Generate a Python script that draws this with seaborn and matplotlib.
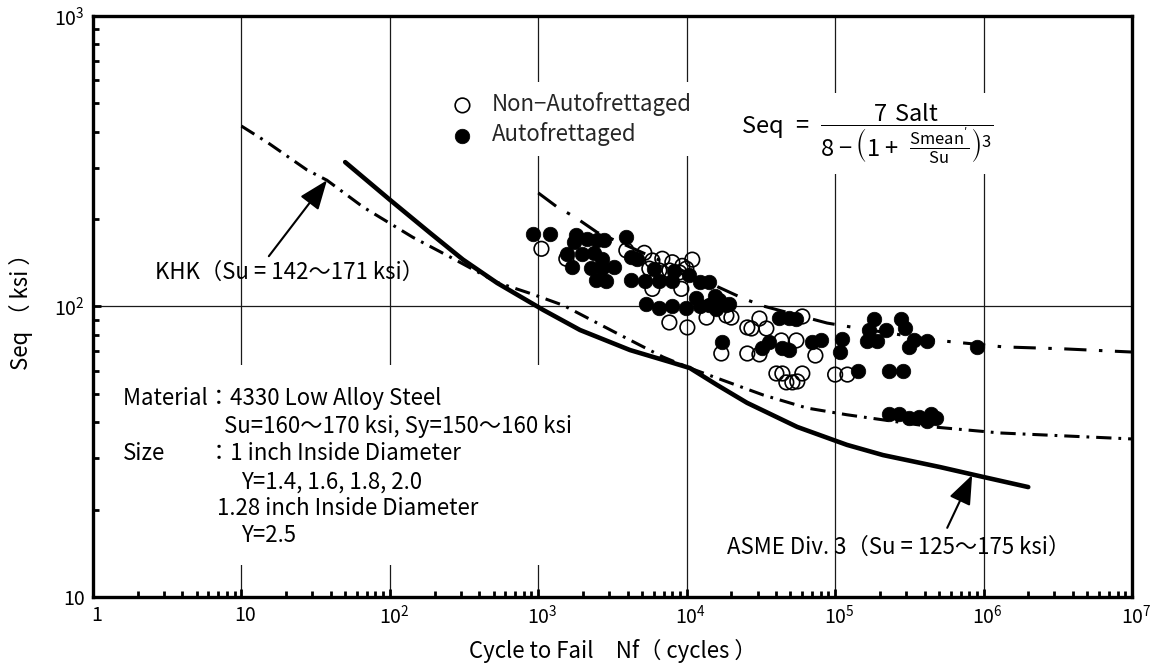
import matplotlib
matplotlib.use("Agg")
import matplotlib.pyplot as plt
import matplotlib.transforms as mtransforms
import seaborn as sns
from matplotlib.patches import Rectangle
from matplotlib.ticker import LogLocator, NullFormatter

# ---- test data: cycles to failure (Nf) and equivalent stress Seq (ksi) ----
auto_n = [925, 1205, 1800, 1750, 2140, 2500, 2790, 3920, 1570, 1980, 1700, 2390,
          2700, 2280, 2700, 3250, 2460, 2870, 4230, 4650, 4230, 5260, 6540, 8000,
          12200, 14200, 5340, 6540, 8000, 9940, 12200, 14200, 16600, 19400, 11600,
          15400, 6050, 8250, 10400, 18500, 15800,
          17400, 32300, 36000, 42100, 49100, 54800, 44100, 49100, 70200, 80800,
          112000, 107000, 143000,
          184000, 170000, 221000, 165000, 190000, 279000, 297000, 342000, 316000,
          418000, 909000, 229000, 288000,
          232000, 271000, 316000, 370000, 445000, 481000, 418000]
auto_s = [178, 178, 176, 167, 171, 170, 169, 174, 152, 152, 137, 153,
          146, 136, 136, 137, 123, 122, 148, 146, 123, 122, 122, 122,
          121, 121, 102, 99, 100, 99, 100, 101, 105, 102, 107,
          109, 135, 133, 128, 101, 98,
          75.2, 71.7, 75.2, 91.6, 91.6, 90.9, 71.7, 70.6, 75.2, 76.4,
          77.0, 69.5, 59.8,
          90.9, 82.7, 82.7, 75.8, 75.8, 90.9, 84.0, 76.4, 72.3,
          75.8, 72.3, 59.8, 59.8,
          42.8, 42.8, 41.2, 41.5, 42.8, 41.2, 40.5]

non_n = [1050, 1545, 3920, 5180, 5870, 6850, 8000, 9340, 6540, 7640, 8920, 5600,
         10900, 9940, 5870, 9200, 7640, 10100, 13600, 18500, 20000, 25600, 27300,
         30900, 34400, 60100, 17100, 25600, 30900, 54800, 43400, 73600, 40200,
         44100, 60100, 46900, 51500, 55600, 100000, 121000]
non_s = [158, 146, 156, 153, 144, 146, 142, 138, 133, 133, 131, 135,
         145, 135, 115, 115, 88.1, 84.7, 91.6, 93.1, 91.6, 84.7, 84.0,
         90.9, 84.0, 92.4, 68.9, 68.9, 68.4, 76.4, 76.4, 67.8, 58.8,
         58.8, 58.8, 54.8, 54.8, 55.2, 58.3, 58.3]

# ---- design curves ----
khk_n = [10, 15.1, 27.7, 37.7, 66, 143, 255, 528, 880, 1470, 3560, 6930, 10500,
         16000, 32700, 64800, 120000, 457000, 1.29e6, 1e7]
khk_s = [418, 366, 295, 272, 220, 173, 148, 121, 111, 101, 79.8, 67, 61.4,
         56.7, 49.6, 44.7, 42.4, 38.5, 36.7, 35.0]

asme_n = [50, 100, 187, 311, 528, 1080, 1910, 4150, 7730, 10500, 16000, 25500,
          55500, 120000, 210000, 510000, 994000, 2.0e6]
asme_s = [314, 233, 179, 145, 120.5, 97.3, 83, 70.8, 64.4, 61.4, 53.7, 46.6,
          38.5, 33.4, 30.8, 28.0, 25.9, 23.9]

af_n = [1000, 1340, 1770, 2490, 7730, 23600, 32700, 88300, 141000, 457000,
        1.36e6, 3.44e6, 1e7]
af_s = [246, 220, 203, 180, 139, 107, 100.4, 87.7, 84.3, 76.7, 72.6, 71.5, 69.7]

x_ticks = [1, 10, 1e2, 1e3, 1e4, 1e5, 1e6, 1e7]
x_tick_labels = ["1", "10", "$10^{2}$", "$10^{3}$", "$10^{4}$", "$10^{5}$",
                 "$10^{6}$", "$10^{7}$"]
y_ticks = [10, 100, 1000]
y_tick_labels = ["10", "$10^{2}$", "$10^{3}$"]

sns.set_theme(style="white")
plt.rcParams["font.family"] = ["Noto Sans CJK JP", "DejaVu Sans"]
plt.rcParams["mathtext.default"] = "regular"
plt.rcParams["axes.unicode_minus"] = False
plt.rcParams["lines.scale_dashes"] = False

FS = 16

fig = plt.figure(figsize=(11.54, 6.66), dpi=100)
ax = fig.add_axes([93 / 1154, 69 / 666, 1039 / 1154, 581 / 666])
ax.set_xscale("log")
ax.set_yscale("log")

# design curves
sns.lineplot(x=khk_n, y=khk_s, ax=ax, color="black", lw=2.2, sort=False,
             linestyle=(0, (11, 5, 2, 5)), zorder=3)
sns.lineplot(x=asme_n, y=asme_s, ax=ax, color="black", lw=3.3, sort=False,
             zorder=3)
sns.lineplot(x=af_n, y=af_s, ax=ax, color="black", lw=2.2, sort=False,
             linestyle=(0, (16, 9, 2.5, 9)), zorder=3)

# test points
sns.scatterplot(x=non_n, y=non_s, ax=ax, marker="o", s=110, color="black",
                facecolor="none", edgecolor="black", linewidth=1.2,
                label="Non−Autofrettaged", zorder=4)
sns.scatterplot(x=auto_n, y=auto_s, ax=ax, marker="o", s=110, color="black",
                edgecolor="black", linewidth=0.5, label="Autofrettaged",
                zorder=5)

ax.set_xlim(1, 1e7)
ax.set_ylim(10, 1000)

# grid at decades
ax.grid(True, which="major", color="#1a1a1a", lw=0.9)
ax.set_axisbelow(True)

for sp in ax.spines.values():
    sp.set_visible(True)
    sp.set_color("black")
    sp.set_linewidth(2.4)

ax.xaxis.set_minor_locator(LogLocator(base=10, subs=range(2, 10), numticks=20))
ax.yaxis.set_minor_locator(LogLocator(base=10, subs=range(2, 10), numticks=20))
ax.xaxis.set_minor_formatter(NullFormatter())
ax.yaxis.set_minor_formatter(NullFormatter())
ax.set_xticks(x_ticks)
ax.set_xticklabels(x_tick_labels)
ax.set_yticks(y_ticks)
ax.set_yticklabels(y_tick_labels)
ax.tick_params(which="both", direction="in", top=False, right=False,
               left=True, bottom=True, color="black", width=2.0)
ax.tick_params(which="major", length=6, labelsize=14, pad=6, labelcolor="black")
ax.tick_params(which="minor", length=4)

# nudge the decade labels slightly to the right
shift = mtransforms.ScaledTranslation(4 / 100, 0, fig.dpi_scale_trans)
for lab in ax.get_xticklabels():
    lab.set_transform(lab.get_transform() + shift)

ax.set_xlabel("Cycle to Fail　Nf（ cycles ）", fontsize=FS, color="black")
ax.set_ylabel("Seq （ ksi ）", fontsize=FS, color="black")
ax.xaxis.set_label_coords(0.5, -0.072)
ax.yaxis.set_label_coords(-0.058, 0.5)

# legend
leg = ax.legend(loc="upper left", bbox_to_anchor=(0.339, 0.886),
                borderaxespad=0, frameon=True, fancybox=False, framealpha=1,
                facecolor="white", edgecolor="none", fontsize=FS,
                handlelength=0.65, handletextpad=1.0, labelspacing=0.28,
                borderpad=0.45, scatterpoints=1)
leg.set_zorder(6)

# equivalent stress formula
ax.text(0.745, 0.797,
        r"$Seq\ =\ \dfrac{7\ Salt}{8-\left(1+\ \frac{Smean'}{Su}\right)^{3}}$",
        transform=ax.transAxes, ha="center", va="center", fontsize=17,
        color="black", zorder=6,
        bbox=dict(facecolor="white", edgecolor="none", pad=6))

# curve labels with arrows
ax.text(0.0597, 0.559, "KHK（Su = 142～171 ksi）", transform=ax.transAxes,
        ha="left", va="center", fontsize=FS, color="black", zorder=6)
ax.annotate("", xy=(37.7, 272), xytext=(15.3, 149),
            arrowprops=dict(arrowstyle="-|>,head_length=0.9,head_width=0.35",
                            color="black", lw=1.5, mutation_scale=20,
                            shrinkA=0, shrinkB=0), zorder=6)
ax.text(0.610, 0.086, "ASME Div. 3（Su = 125～175 ksi）", transform=ax.transAxes,
        ha="left", va="center", fontsize=FS, color="black", zorder=6)
ax.annotate("", xy=(8.38e5, 26.3), xytext=(5.69e5, 17.3),
            arrowprops=dict(arrowstyle="-|>,head_length=0.9,head_width=0.35",
                            color="black", lw=1.5, mutation_scale=20,
                            shrinkA=0, shrinkB=0), zorder=6)

# material / specimen block
ax.add_patch(Rectangle((0.0164, 0.055), 0.4716, 0.344, transform=ax.transAxes,
                       facecolor="white", edgecolor="none", zorder=1.5))
mat_lines = [
    (0.0289, 0.3425, "Material：4330 Low Alloy Steel"),
    (0.126, 0.2943, "Su=160～170 ksi, Sy=150～160 ksi"),
    (0.0289, 0.2478, "Size"),
    (0.1105, 0.2478, "：1 inch Inside Diameter"),
    (0.1424, 0.198, "Y=1.4, 1.6, 1.8, 2.0"),
    (0.1193, 0.153, "1.28 inch Inside Diameter"),
    (0.1424, 0.105, "Y=2.5"),
]
for x, y, s in mat_lines:
    ax.text(x, y, s, transform=ax.transAxes, ha="left", va="center",
            fontsize=FS, color="black", zorder=6)

fig.savefig("out.png", dpi=100, facecolor="white")
